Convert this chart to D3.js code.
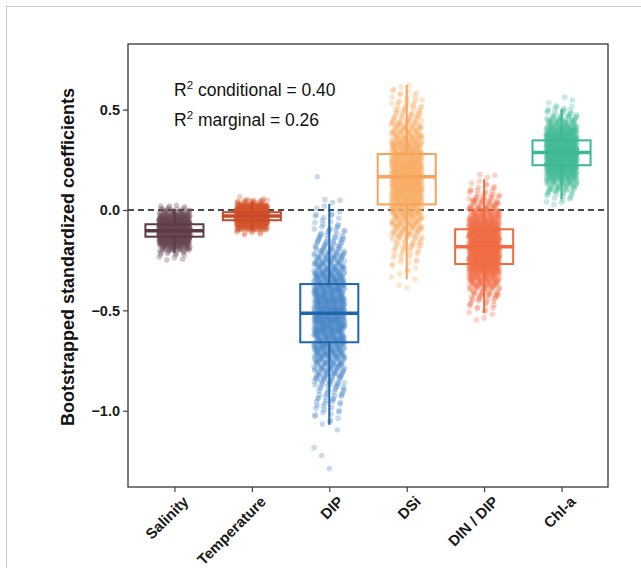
<!DOCTYPE html>
<html>
<head>
<meta charset="utf-8">
<script src="https://cdn.jsdelivr.net/npm/d3@7"></script>
<style>
  body { margin: 0; background: #fff; }
  svg { display: block; font-family: "Liberation Sans", Arial, sans-serif; }
</style>
</head>
<body>
<div class="js-vis"></div>
<script>
"use strict";

// categories and box statistics
var categories = ["Salinity", "Temperature", "DIP", "DSi", "DIN / DIP", "Chl-a"];
var q1 = [-0.133, -0.051, -0.659, 0.028, -0.269, 0.223];
var medians = [-0.103, -0.030, -0.515, 0.166, -0.183, 0.286];
var q3 = [-0.071, -0.011, -0.369, 0.279, -0.096, 0.347];
var whiskerLow = [-0.213, -0.100, -1.070, -0.345, -0.512, 0.053];
var whiskerHigh = [0.005, 0.045, 0.030, 0.623, 0.153, 0.503];

// bootstrap samples, binned (bin width 0.025), counts estimated from the point clouds
var binWidth = 0.025;
var binStart = [-0.25, -0.125, -1.3, -0.4, -0.55, 0.025];
var binCounts = [
  [4, 12, 38, 91, 161, 211, 207, 146, 81, 33, 10],
  [8, 57, 192, 324, 274, 116, 25, 3],
  [1, 0, 0, 1, 1, 0, 0, 0, 1, 2, 3, 4, 5, 6, 7, 8, 10, 13, 15, 18, 21, 24, 27, 30, 34, 37, 39, 42, 44, 45,
   46, 46, 46, 45, 43, 41, 39, 36, 33, 30, 26, 23, 20, 17, 15, 12, 10, 8, 6, 5, 4, 3, 2, 2, 1, 0, 0, 0, 1],
  [1, 1, 2, 2, 3, 4, 5, 7, 9, 12, 15, 18, 22, 26, 30, 35, 39, 43, 47, 50, 52, 53, 54, 53, 51, 49, 46, 42,
   38, 34, 30, 25, 21, 18, 14, 11, 9, 7, 5, 4, 3],
  [2, 3, 5, 7, 11, 16, 22, 29, 38, 47, 56, 64, 71, 76, 78, 77, 73, 67, 59, 50, 41, 32, 24, 18, 12, 8, 5, 3, 2, 1],
  [3, 6, 11, 19, 30, 45, 62, 79, 95, 105, 108, 104, 92, 76, 58, 41, 27, 17, 10, 5, 2, 1]
];

var yTicks = [0.5, 0, -0.5, -1];
var r2Labels = [["conditional", "0.40"], ["marginal", "0.26"]];

var boxColors = ["#5b3b45", "#c9482a", "#2166ac", "#f7a35a", "#f26a42", "#3cb891"];
var pointColors = ["#6a4955", "#d4552f", "#4585c6", "#f9ab63", "#f26d45", "#45bd97"];

var W = 641, H = 568;
var margin = { top: 44, right: 33, bottom: 81, left: 128 },
    width = W - margin.left - margin.right,
    height = H - margin.top - margin.bottom;

var svg = d3.select(".js-vis").append("svg").attr("width", W).attr("height", H);

// outer light frame
svg.append("rect").attr("x", 6.5).attr("y", 6.5).attr("width", 700).attr("height", 700)
  .attr("fill", "none").attr("stroke", "#c8c8c8");

var vis = svg.append("g").attr("transform", "translate(" + margin.left + "," + margin.top + ")");

var x = d3.scalePoint().domain(categories).range([0, width]).padding(0.6);
var y = d3.scaleLinear().domain([-1.38, 0.827]).range([height, 0]);
var step = x.step(),
    jitter = 0.2 * step,
    boxW = 0.75 * step;

// axes
var yax = d3.axisLeft(y).tickValues(yTicks).tickFormat(d3.format(".1f")).tickSize(5).tickPadding(3);
var xax = d3.axisBottom(x).tickSize(5).tickPadding(3);

var gy = vis.append("g").call(yax);
var gx = vis.append("g").attr("transform", "translate(0," + height + ")").call(xax);
[gy, gx].forEach(function (g) {
  g.select(".domain").remove();
  g.selectAll("line").attr("stroke", "#444").attr("stroke-width", 1.2);
  g.selectAll("text").attr("fill", "#1a1a1a").style("font-weight", "bold").style("font-size", "14.5px")
    .style("font-family", "'Liberation Sans', Arial, sans-serif");
});
gx.selectAll("text")
  .style("font-size", "15px")
  .attr("text-anchor", "end")
  .attr("dy", null)
  .attr("dominant-baseline", "hanging")
  .attr("transform", "translate(1,2) rotate(-45)");

// zero line
vis.append("line").attr("x1", 0).attr("x2", width).attr("y1", y(0)).attr("y2", y(0))
  .attr("stroke", "#111").attr("stroke-width", 1.5).attr("stroke-dasharray", "6,4");

// jittered bootstrap points (R2 low-discrepancy jitter, deterministic)
var points = [];
categories.forEach(function (c, ci) {
  var n = 0;
  binCounts[ci].forEach(function (cnt, k) {
    for (var i = 0; i < cnt; i++) {
      var u = (0.5 + n * 0.7548776662) % 1,
          v = (0.5 + n * 0.5698402910) % 1;
      points.push({ ci: ci, value: binStart[ci] + (k + v) * binWidth, dx: (u - 0.5) * 2 * jitter });
      n++;
    }
  });
});

vis.append("g").selectAll("circle").data(points).enter().append("circle")
  .attr("cx", function (d) { return x(categories[d.ci]) + d.dx; })
  .attr("cy", function (d) { return y(d.value); })
  .attr("r", 2.8)
  .attr("fill", function (d) { return pointColors[d.ci]; })
  .attr("fill-opacity", 0.3);

// boxes
var boxes = vis.append("g").selectAll("g").data(categories).enter().append("g")
  .attr("stroke", function (d, i) { return boxColors[i]; })
  .attr("fill", "none");

boxes.append("line").attr("x1", function (d) { return x(d); }).attr("x2", function (d) { return x(d); })
  .attr("y1", function (d, i) { return y(whiskerHigh[i]); }).attr("y2", function (d, i) { return y(q3[i]); })
  .attr("stroke-width", 2);
boxes.append("line").attr("x1", function (d) { return x(d); }).attr("x2", function (d) { return x(d); })
  .attr("y1", function (d, i) { return y(q1[i]); }).attr("y2", function (d, i) { return y(whiskerLow[i]); })
  .attr("stroke-width", 2);
boxes.append("rect")
  .attr("x", function (d) { return x(d) - boxW / 2; })
  .attr("y", function (d, i) { return y(q3[i]); })
  .attr("width", boxW)
  .attr("height", function (d, i) { return y(q1[i]) - y(q3[i]); })
  .attr("stroke-width", 2);
boxes.append("line")
  .attr("x1", function (d) { return x(d) - boxW / 2; }).attr("x2", function (d) { return x(d) + boxW / 2; })
  .attr("y1", function (d, i) { return y(medians[i]); }).attr("y2", function (d, i) { return y(medians[i]); })
  .attr("stroke-width", 3.5);

// panel frame
vis.append("rect").attr("width", width).attr("height", height)
  .attr("fill", "none").attr("stroke", "#444").attr("stroke-width", 1.4);

// R2 annotations
var ann = vis.append("g").attr("fill", "#111").style("font-size", "17.5px");
r2Labels.forEach(function (r, i) {
  var t = ann.append("text").attr("x", 46).attr("y", 52 + i * 29.5);
  t.append("tspan").text("R");
  t.append("tspan").attr("dy", -7).style("font-size", "11.5px").text("2");
  t.append("tspan").attr("dy", 7).text(" " + r[0] + " = " + r[1]);
});

// y title
svg.append("text")
  .attr("transform", "translate(74,257) rotate(-90)")
  .attr("text-anchor", "middle")
  .style("font-weight", "bold").style("font-size", "18px").attr("fill", "#111")
  .text("Bootstrapped standardized coefficients");
</script>
</body>
</html>
